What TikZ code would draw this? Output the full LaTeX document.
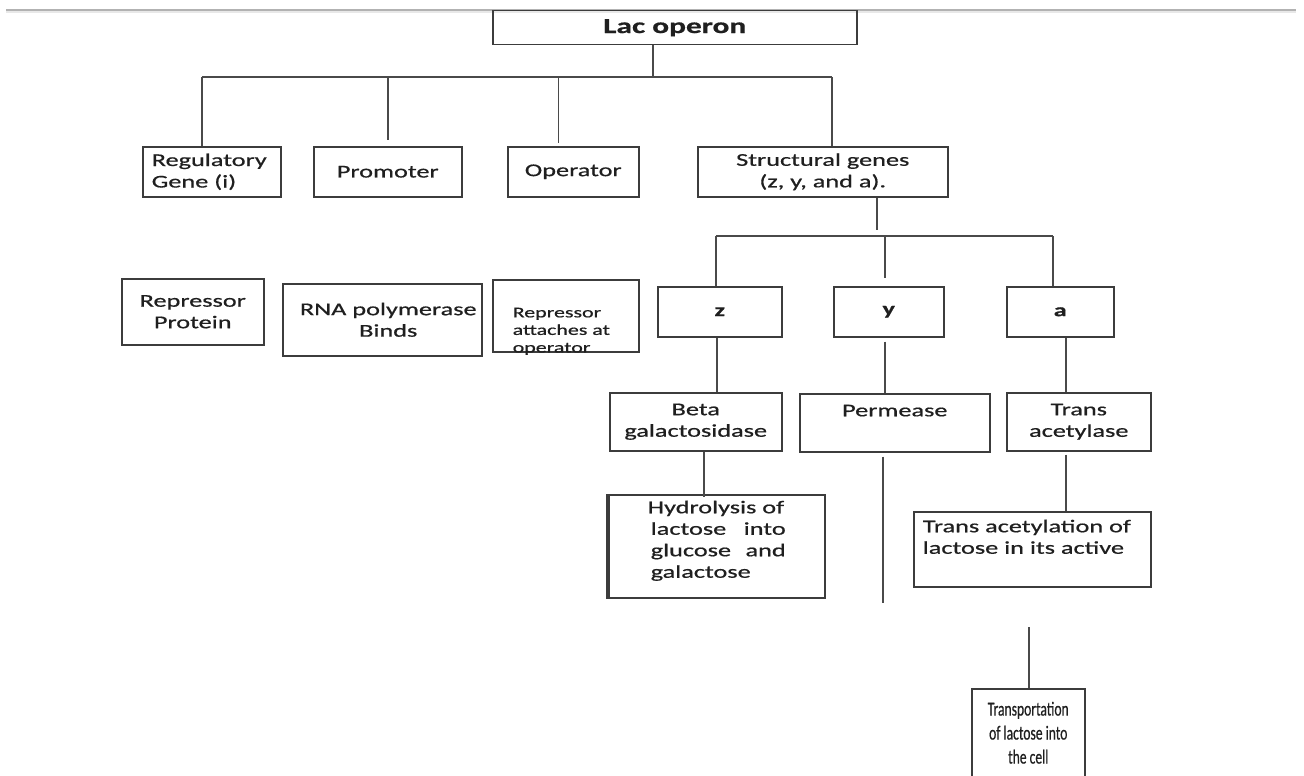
\documentclass[tikz,border=0pt]{standalone}
\usepackage{fontspec}
\setmainfont{Carlito}[FakeStretch=1.46, FakeBold=0.7]
\newfontfamily\narrowfont{Carlito}[FakeStretch=0.68, FakeBold=0.5]
\definecolor{linegray}{HTML}{4A4A4A}
\definecolor{boxgray}{HTML}{3C3C3C}
\newcommand{\boxcell}[4][c]{\begin{minipage}[t][#3][#1]{#2}\centering #4\end{minipage}}
\tikzset{box/.style={draw=boxgray, line width=1.5pt, inner sep=0pt, anchor=north west, text=black!88}}
\tikzset{link/.style={draw=linegray, line width=1.5pt}}
\begin{document}
\begin{tikzpicture}[x=1pt, y=-1pt, line cap=butt, font=\fontsize{18}{21.5}\selectfont]
      \useasboundingbox (0,0) rectangle (1304,776);
      \draw[gray!18, line width=2pt] (6,12.5) -- (1296,12.5);
      \draw[gray!60, line width=1.2pt] (6,10) -- (1296,10);
      \node[box] (lac) at (492,10) {\boxcell{364pt}{34pt}{\fontsize{21.5}{24}\selectfont\bfseries Lac operon}};
      \node[box] (reg) at (142,146) {\boxcell{138pt}{50pt}{\raggedright\leftskip=9pt Regulatory\\Gene (i)}};
      \node[box] (prom) at (313,146) {\boxcell{148pt}{50pt}{Promoter}};
      \node[box] (oper) at (507,146) {\boxcell{131pt}{50pt}{Operator}};
      \node[box] (struc) at (697,146) {\boxcell{250pt}{50pt}{Structural genes\\(z, y, and a).}};
      \node[box] (rep) at (121,278) {\boxcell{142pt}{66pt}{Repressor\\Protein}};
      \node[box] (rna) at (282,283) {\boxcell{199pt}{72pt}{\leftskip=12pt plus 1fil RNA polymerase\\Binds}};
      \node[box] (repat) at (492,279) {\boxcell[t]{146pt}{72pt}{\fontsize{15}{17.5}\selectfont\raggedright\leftskip=20pt\vspace*{28pt}Repressor\\attaches at\\operator}};
      \node[box] (zg) at (657,286) {\boxcell{124pt}{50pt}{\bfseries z}};
      \node[box] (yg) at (833,286) {\boxcell{110pt}{50pt}{\bfseries y}};
      \node[box] (ag) at (1006,286) {\boxcell{107pt}{50pt}{\bfseries a}};
      \node[box] (beta) at (609,392) {\boxcell{172pt}{58pt}{Beta\\galactosidase}};
      \node[box] (perm) at (799,393) {\boxcell[t]{190pt}{58pt}{\vspace*{11pt}Permease}};
      \node[box] (acetylase) at (1006,392) {\boxcell{144pt}{58pt}{Trans\\acetylase}};
      \node[box] (hydro) at (606,494) {\boxcell[t]{218pt}{103pt}{\raggedright\leftskip=41pt\vspace*{6pt}Hydrolysis of\\\hspace*{3pt}\makebox[135pt][s]{lactose into}\\\hspace*{3pt}\makebox[135pt][s]{glucose and}\\\hspace*{3pt}galactose}};
      \node[box] (acetylation) at (913,511) {\boxcell[t]{237pt}{75pt}{\raggedright\leftskip=9pt\vspace*{8pt}Trans acetylation of\\lactose in its active}};
      \node[box] (transport) at (971,688) {\boxcell{113pt}{88pt}{\narrowfont\fontsize{20}{24}\selectfont Transportation\\of lactose into\\the cell}};
      \draw[box] ([xshift=3pt]hydro.north west) -- ([xshift=3pt]hydro.south west);
      \coordinate (bus) at (653,77);
      \coordinate (genebus) at (877,236);
      \coordinate (permend) at (883,603);
      \coordinate (transportstart) at (1029,627);
      \draw[link] (lac.south -| bus) -- (bus);
      \draw[link] ([xshift=-10pt]reg.north |- bus) -- ([xshift=9pt]struc.north |- bus);
      \draw[link] ([xshift=-10pt]reg.north |- bus) -- ([xshift=-10pt]reg.north);
      \draw[link] (prom.north |- bus) -- ([yshift=6pt]prom.north);
      \draw[link] ([xshift=-15pt]oper.north |- bus) -- ([xshift=-15pt,yshift=3pt]oper.north);
      \draw[link] ([xshift=9pt]struc.north |- bus) -- ([xshift=9pt]struc.north);
      \draw[link] (struc.south -| genebus) -- ([yshift=6pt]genebus);
      \draw[link] ([xshift=-4pt]zg.north |- genebus) -- ([xshift=-7.5pt]ag.north |- genebus);
      \draw[link] ([xshift=-4pt]zg.north |- genebus) -- ([xshift=-4pt]zg.north);
      \draw[link] ([xshift=-4pt]yg.north |- genebus) -- ([xshift=-4pt,yshift=8pt]yg.north);
      \draw[link] ([xshift=-7.5pt]ag.north |- genebus) -- ([xshift=-7.5pt]ag.north);
      \draw[link] ([xshift=-3pt]zg.south) -- ([xshift=-3pt]zg.south |- beta.north);
      \draw[link] ([xshift=-4pt,yshift=-4pt]yg.south) -- ([xshift=-4pt]yg.south |- perm.north);
      \draw[link] ([xshift=5.5pt]ag.south) -- ([xshift=5.5pt]ag.south |- acetylase.north);
      \draw[link] ([xshift=8pt]beta.south) -- ([xshift=8pt,yshift=-3pt]beta.south |- hydro.north);
      \draw[link] ([yshift=-4pt]perm.south -| permend) -- (permend);
      \draw[link] ([xshift=-13pt,yshift=-3pt]acetylase.south) -- ([xshift=-13pt]acetylase.south |- acetylation.north);
      \draw[link] (transportstart) -- (transportstart |- transport.north);
    \end{tikzpicture}
\end{document}
